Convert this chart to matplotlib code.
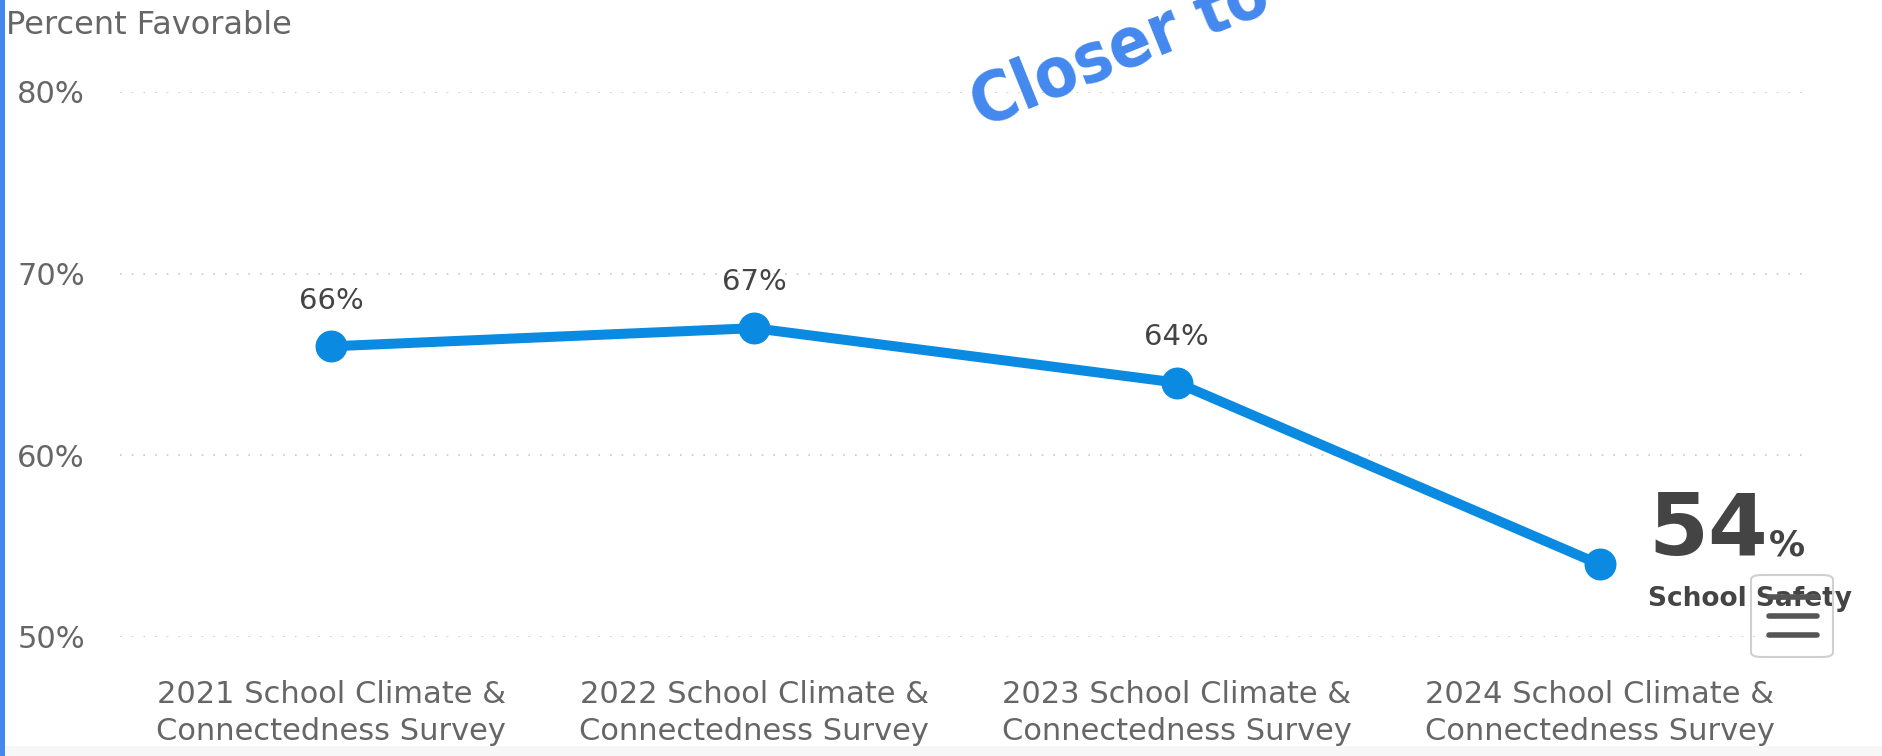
import matplotlib.pyplot as plt
from matplotlib.patches import Rectangle, FancyBboxPatch

surveys = ['2021 School Climate &\nConnectedness Survey',
           '2022 School Climate &\nConnectedness Survey',
           '2023 School Climate &\nConnectedness Survey',
           '2024 School Climate &\nConnectedness Survey']
favorable = [66, 67, 64, 54]
y_ticks = [50, 60, 70, 80]
series_name = 'School Safety'

W, H = 1883, 756
plt.rcParams['font.family'] = ['DejaVu Sans']
fig = plt.figure(figsize=(W / 100, H / 100), dpi=100)
fig.patch.set_facecolor('white')

ax = fig.add_axes([120 / W, 1 - 637 / H, (1811 - 120) / W, (637 - 92) / H])
x = list(range(len(favorable)))
ax.plot(x, favorable, color='#0a8ae0', lw=7.2, marker='o', ms=22,
        solid_capstyle='round', zorder=3)

ax.set_xlim(-0.5, len(favorable) - 0.5)
ax.set_ylim(50, 80)
ax.set_yticks(y_ticks)
ax.set_yticklabels([f'{v}%' for v in y_ticks])
ax.set_xticks(x)
ax.set_xticklabels(surveys, linespacing=1.35)
ax.tick_params(axis='y', length=0, pad=74, labelsize=22, labelcolor='#666666')
ax.tick_params(axis='x', length=0, pad=31, labelsize=22, labelcolor='#666666')
for lab in ax.get_yticklabels():
    lab.set_ha('left')
for s in ax.spines.values():
    s.set_visible(False)
ax.grid(axis='y', color='#c8c8c8', lw=1.2, linestyle=(0, (1, 6)))
ax.set_axisbelow(True)

for i, v in enumerate(favorable[:-1]):
    ax.annotate(f'{v}%', (i, v), xytext=(0, 33), textcoords='offset points',
                ha='center', va='center', fontsize=21, color='#444444')

# last value callout
ax.annotate(f'{favorable[-1]}', (x[-1], favorable[-1]), xytext=(35, 6.5),
            textcoords='offset points', ha='left', va='baseline',
            fontsize=62, fontweight='bold', color='#444444')
ax.annotate('%', (x[-1], favorable[-1]), xytext=(122, 6.5),
            textcoords='offset points', ha='left', va='baseline',
            fontsize=26, fontweight='bold', color='#444444')
ax.annotate(series_name, (x[-1], favorable[-1]), xytext=(35, -30),
            textcoords='offset points', ha='left', va='baseline',
            fontsize=19, fontweight='bold', color='#444444')

fig.text(6 / W, 1 - 26 / H, 'Percent Favorable', ha='left', va='center',
         fontsize=23, color='#666666')

# overlay text cut by the top edge
fig.text(982 / W, 1 - 128 / H, 'Closer to Th', rotation=22, rotation_mode='anchor',
         ha='left', va='baseline', fontsize=50, fontweight='bold',
         fontstretch='condensed', color='#4488ee')

# left accent bar and bottom strip
fig.add_artist(Rectangle((0, 0), 5 / W, 1, transform=fig.transFigure,
                         color='#4488ee', lw=0))
fig.add_artist(Rectangle((5 / W, 0), 1, 10 / H, transform=fig.transFigure,
                         color='#f7f7f7', lw=0, zorder=0))

# menu button
fig.add_artist(FancyBboxPatch((1751 / W, 1 - 657 / H), 82 / W, 82 / H,
                              boxstyle='round,pad=0,rounding_size=0.006',
                              transform=fig.transFigure, fc='none',
                              ec='#d0d0d0', lw=1.5))
for yy in (597, 616, 635):
    fig.add_artist(plt.Line2D([1769 / W, 1817 / W], [1 - yy / H] * 2,
                              transform=fig.transFigure, color='#555555',
                              lw=4, solid_capstyle='round'))

fig.savefig('out.png', dpi=100)
